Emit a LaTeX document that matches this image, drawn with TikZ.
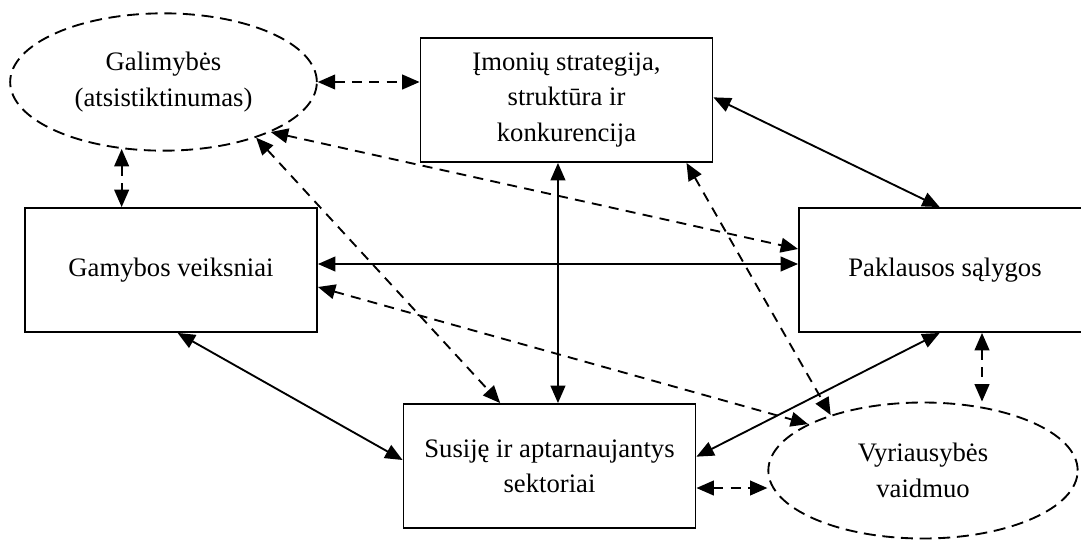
\documentclass[tikz,border=0pt]{standalone}
\usepackage{fontspec}
\setmainfont{Liberation Serif}
\usetikzlibrary{shapes.geometric,arrows.meta}
\begin{document}
\begin{tikzpicture}[x=0.75pt,y=-0.75pt,
    factor/.style={draw,line width=1.4pt,minimum width=219pt,minimum height=93pt,align=center,font=\fontsize{20}{26.5}\selectfont},
    chance/.style={ellipse,draw,line width=1.4pt,dash pattern=on 9pt off 5pt,inner sep=0pt,align=center,font=\fontsize{20}{26.5}\selectfont},
    link/.style={line width=1.4pt,{Triangle[length=13pt,width=11pt]}-{Triangle[length=13pt,width=11pt]}},
    dlink/.style={link,dash pattern=on 7.5pt off 5.5pt}]
  \useasboundingbox (0,0) rectangle (1081,540);
  \clip (0,0) rectangle (1081,540);
  % Factor boxes
  \node[factor] (imo) at (566.5,100) {Įmonių strategija,\\ struktūra ir\\ konkurencija};
  \node[factor] (gam) at (171,270) {Gamybos veiksniai};
  \node[factor] (pak) at (945,270) {Paklausos sąlygos};
  \node[factor] (sus) at (549.5,466) {Susiję ir aptarnaujantys\\ sektoriai};
  % Dashed ellipses
  \node[chance,minimum width=230pt,minimum height=103pt] (gal) at (163.5,82) {Galimybės\\ (atsistiktinumas)};
  \node[chance,minimum width=232pt,minimum height=102pt] (vyr) at (923,470.5) {Vyriausybės\\ vaidmuo};
  % Helper points
  \coordinate (m6) at ([xshift=-6.4pt]imo.south);
  \coordinate (m8) at ([yshift=4.5pt]gam.east);
  \coordinate (m12) at ([xshift=27.75pt]pak.south);
  \coordinate (m13) at ([yshift=-16.5pt]sus.east);
  % Solid links
  \draw[link] ([yshift=2pt]imo.east) -- ([xshift=-4pt]pak.north);
  \draw[link] (m6) -- (m6 |- sus.north);
  \draw[link] (m8) -- (m8 -| pak.west);
  \draw[link] ([xshift=5pt]gam.south) -- ([yshift=4.5pt]sus.west);
  \draw[link] ([xshift=-4pt]pak.south) -- ([yshift=7pt]sus.east);
  % Dashed links
  \draw[dlink] (gal.east) -- (gal.east -| imo.west);
  \draw[dlink] (gal.238) -- (gal.238 |- gam.north);
  \draw[dlink] (gal.-25) -- ([yshift=15.75pt]pak.west);
  \draw[dlink] (gal.-31) -- ([xshift=-37pt]sus.north);
  \draw[dlink] ([xshift=90pt]imo.south) -- (vyr.149);
  \draw[dlink] ([yshift=-12.75pt]gam.east) -- (vyr.158);
  \draw[dlink] (m12) -- (m12 |- vyr.north);
  \draw[dlink] (m13) -- (m13 -| vyr.west);
\end{tikzpicture}
\end{document}
